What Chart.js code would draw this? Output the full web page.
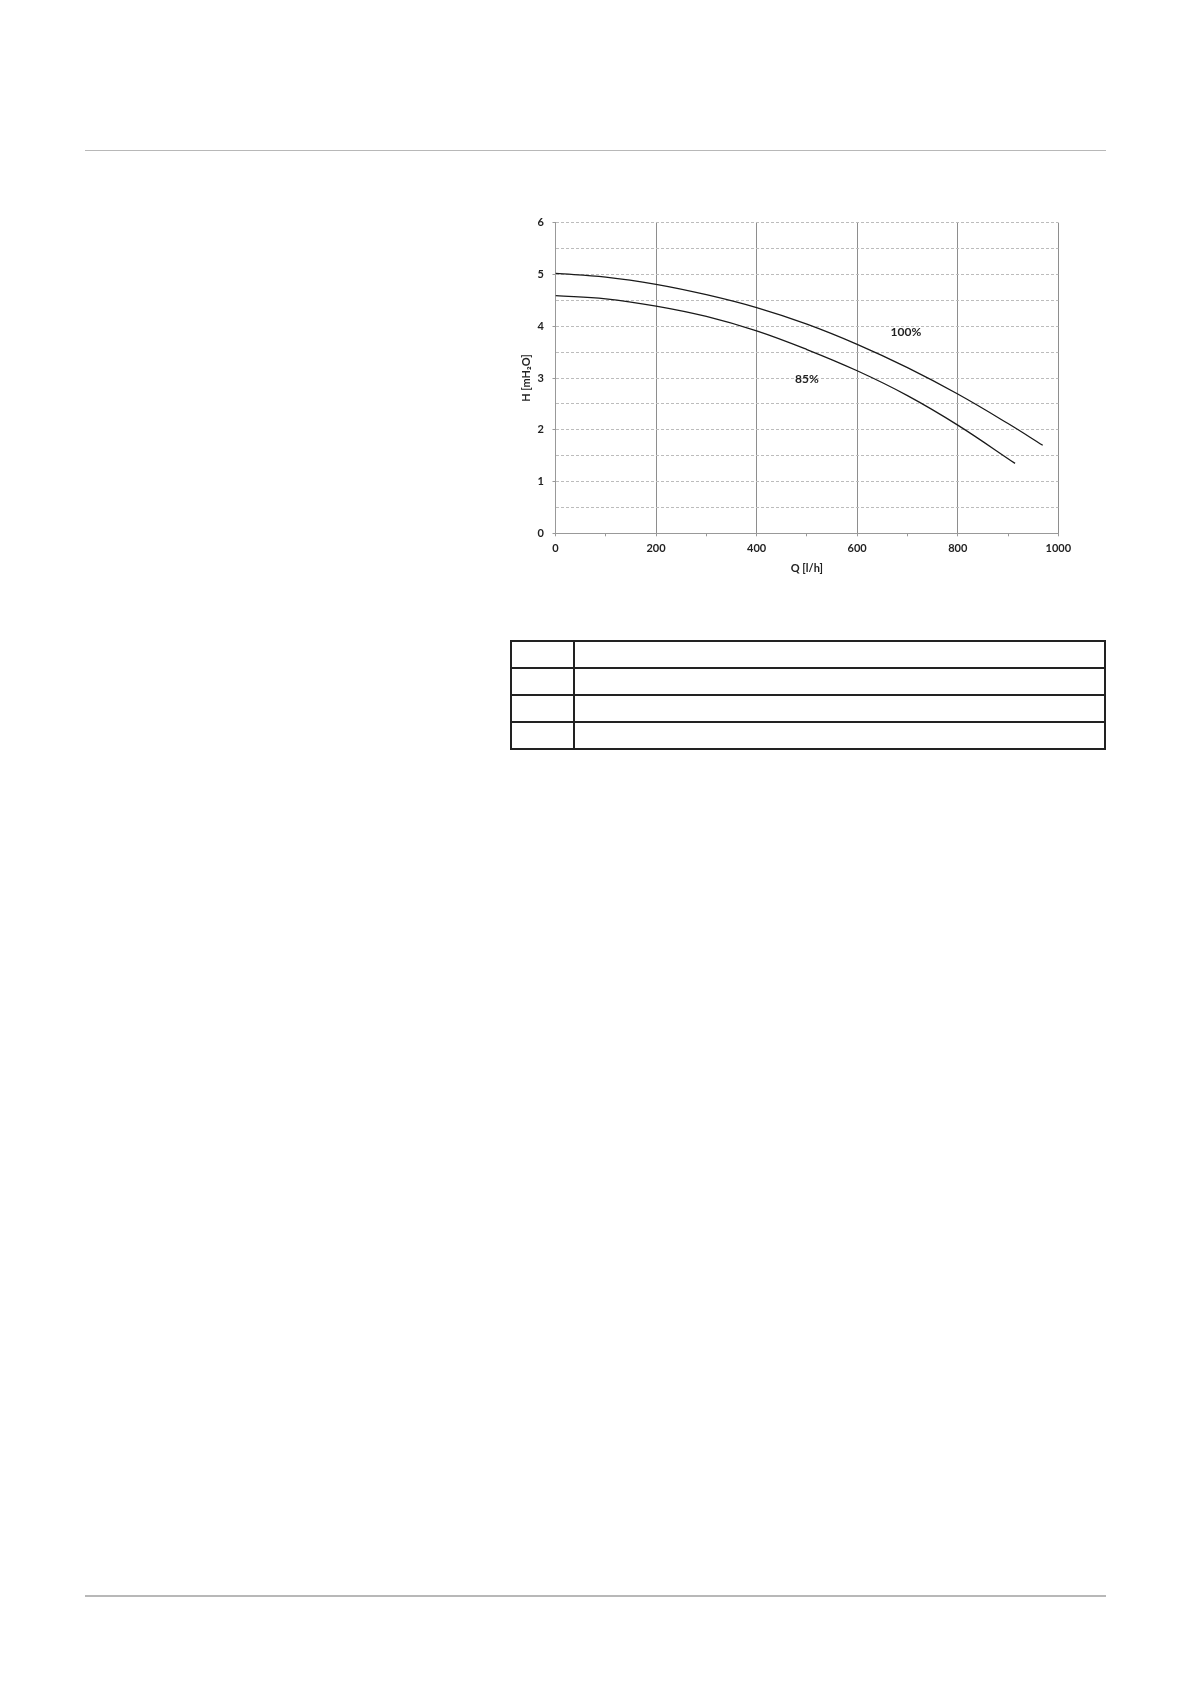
<!DOCTYPE html>
<html>
<head>
<meta charset="utf-8">
<title>Pump curve</title>
<script src="https://cdn.jsdelivr.net/npm/chart.js@4.4.1/dist/chart.umd.min.js"></script>
<style>
    html, body {
        margin: 0;
        padding: 0;
        background: #fff;
    }
    body {
        position: relative;
        width: 1191px;
        height: 1684px;
        overflow: hidden;
        font-family: Lato, "Open Sans", sans-serif;
    }
    .rule {
        position: absolute;
        left: 85px;
        width: 1021px;
        height: 1.5px;
        background: #b8b8b8;
    }
    #chartBox {
        position: absolute;
        left: 480px;
        top: 190px;
        width: 600px;
        height: 400px;
    }
    #specTable {
        position: absolute;
        left: 510px;
        top: 640px;
        width: 596px;
        height: 110px;
        border-collapse: collapse;
    }
    #specTable td {
        border: 2px solid #222;
        padding: 0;
    }
    #specTable td.key {
        width: 61px;
    }
</style>
</head>
<body>
<div class="rule" style="top: 149.5px;"></div>
<div class="rule" style="top: 1595px;"></div>

<div id="chartBox"><canvas id="pumpChart" width="600" height="400"></canvas></div>

<table id="specTable">
    <tr><td class="key"></td><td></td></tr>
    <tr><td class="key"></td><td></td></tr>
    <tr><td class="key"></td><td></td></tr>
    <tr><td class="key"></td><td></td></tr>
</table>

<script>
// flow rate Q [l/h] and head H [mH2O]
const flow100 = [0, 100, 200, 300, 400, 500, 600, 700, 800, 900, 969];
const head100 = [5.02, 4.95, 4.81, 4.61, 4.36, 4.04, 3.65, 3.20, 2.69, 2.12, 1.70];
const flow85 = [0, 100, 200, 300, 400, 500, 600, 700, 800, 914];
const head85 = [4.59, 4.53, 4.39, 4.19, 3.91, 3.55, 3.14, 2.66, 2.09, 1.35];

const curveNames = ['100%', '85%'];
// where the speed labels sit, in data units
const labelFlow = [697, 500];
const labelHead = [3.88, 2.97];

const xTitle = 'Q [l/h]';
const yTitle = 'H [mH\u2082O]';

const tickFont = { family: 'Lato', size: 11, weight: 'bold' };
const textColor = '#222';
const axisColor = '#999';

function toPoints(xs, ys) {
    return xs.map((x, i) => ({ x: x, y: ys[i] }));
}

// writes the 100% / 85% tags onto the plot
const curveLabelPlugin = {
    id: 'curveLabels',
    afterDatasetsDraw(chart) {
        const ctx = chart.ctx;
        const xScale = chart.scales.x;
        const yScale = chart.scales.y;
        ctx.save();
        ctx.font = 'bold 12px Lato';
        ctx.fillStyle = textColor;
        ctx.textAlign = 'center';
        ctx.textBaseline = 'middle';
        for (let i = 0; i < curveNames.length; i++) {
            ctx.fillText(curveNames[i], xScale.getPixelForValue(labelFlow[i]), yScale.getPixelForValue(labelHead[i]));
        }
        ctx.restore();
    }
};

const ctx = document.getElementById('pumpChart').getContext('2d');
const pumpChart = new Chart(ctx, {
    type: 'line',
    data: {
        datasets: [{
            label: curveNames[0],
            data: toPoints(flow100, head100)
        }, {
            label: curveNames[1],
            data: toPoints(flow85, head85)
        }]
    },
    options: {
        responsive: false,
        animation: false,
        layout: {
            padding: { top: 32.7, right: 21.7, bottom: 0, left: 0 }
        },
        elements: {
            line: {
                borderColor: '#1a1a1a',
                borderWidth: 1.3,
                tension: 0.4
            },
            point: { radius: 0 }
        },
        plugins: {
            legend: { display: false },
            tooltip: { enabled: false }
        },
        scales: {
            x: {
                type: 'linear',
                min: 0,
                max: 1000,
                afterFit: (scale) => { scale.height = 56.7; },
                ticks: {
                    stepSize: 100,
                    autoSkip: false,
                    maxRotation: 0,
                    padding: 6,
                    color: textColor,
                    font: tickFont,
                    callback: (value) => value % 200 === 0 ? value : ''
                },
                grid: {
                    tickLength: 3,
                    lineWidth: 1,
                    color: (c) => (c.tick && c.tick.value % 200 === 0 && c.tick.value > 0) ? '#8e8e8e' : 'rgba(0,0,0,0)',
                    tickColor: axisColor
                },
                border: { color: axisColor, width: 1 },
                title: {
                    display: true,
                    text: xTitle,
                    color: textColor,
                    font: tickFont,
                    padding: { top: 0, bottom: 15 }
                }
            },
            y: {
                min: 0,
                max: 6,
                afterFit: (scale) => { scale.width = 75.5; },
                ticks: {
                    stepSize: 0.5,
                    autoSkip: false,
                    padding: 8.5,
                    color: textColor,
                    font: tickFont,
                    callback: (value) => Number.isInteger(value) ? value : ''
                },
                grid: {
                    tickLength: 3,
                    lineWidth: 1,
                    color: '#bcbcbc',
                    tickColor: (c) => (c.tick && Number.isInteger(c.tick.value)) ? axisColor : 'rgba(0,0,0,0)'
                },
                border: { color: axisColor, width: 1, dash: [3, 2] },
                title: {
                    display: true,
                    text: yTitle,
                    color: textColor,
                    font: tickFont,
                    padding: { top: 40, bottom: 0 }
                }
            }
        }
    },
    plugins: [curveLabelPlugin]
});
</script>
</body>
</html>
